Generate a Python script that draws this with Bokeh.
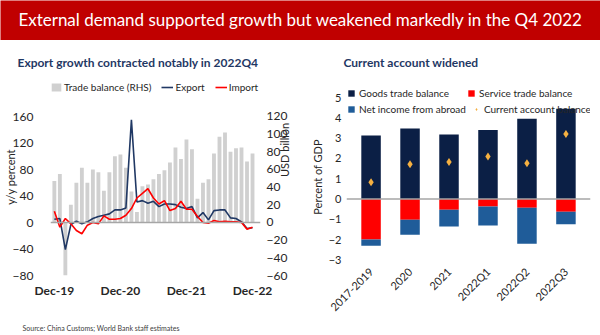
import numpy as np
from bokeh.plotting import figure
from bokeh.models import (ColumnDataSource, Range1d, LinearAxis, FixedTicker, Span,
                          Legend, LegendItem, FactorRange)
from bokeh.layouts import column, row
from bokeh.embed import file_html
from bokeh.resources import INLINE
from bokeh.core.properties import value

# ---------------- data ----------------
banner_title = "External demand supported growth but weakened markedly in the Q4 2022"
left_title = "Export growth contracted notably in 2022Q4"
right_title = "Current account widened"
source_note = "Source: China Customs; World Bank staff estimates"

months = ["Dec-19", "Jan-20", "Feb-20", "Mar-20", "Apr-20", "May-20", "Jun-20", "Jul-20",
          "Aug-20", "Sep-20", "Oct-20", "Nov-20", "Dec-20", "Jan-21", "Feb-21", "Mar-21",
          "Apr-21", "May-21", "Jun-21", "Jul-21", "Aug-21", "Sep-21", "Oct-21", "Nov-21",
          "Dec-21", "Jan-22", "Feb-22", "Mar-22", "Apr-22", "May-22", "Jun-22", "Jul-22",
          "Aug-22", "Sep-22", "Oct-22", "Nov-22", "Dec-22"]
trade_balance = [47, 55, -60, 20, 45, 62, 45, 60, 57, 36, 57, 75, 77, 62, 35, 12, 41, 43, 49,
                 55, 59, 68, 85, 72, 94, 83, 27, 45, 49, 78, 97, 102, 80, 84, 85, 69, 78]
export_yoy = [5, 6, -41, -3, 2, -2, 1, 6, 9, 11, 13, 19, 19, 22, 155, 31, 33, 29, 32, 24,
              28, 28, 27, 23, 21, 24, 7, 15, 4, 18, 19, 19, 7, 6, 1, -9, -8]
import_yoy = [17, -7, 6, -2, -12, -17, -4, 0, -2, 10, 5, 5, 6, 11, 21, 37, 44, 51, 37, 28,
              33, 18, 21, 32, 20, 20, 9, 0, -1, 3, 1, 2, 1, 1, 0, -10, -7]
left_ticks = [-80, -40, 0, 40, 80, 120, 160]
right_ticks = [-60, -40, -20, 0, 20, 40, 60, 80, 100, 120]
month_tick_labels = ["Dec-19", "Dec-20", "Dec-21", "Dec-22"]

periods = ["2017-2019", "2020", "2021", "2022Q1", "2022Q2", "2022Q3"]
goods = [3.13, 3.47, 3.18, 3.40, 3.96, 4.45]
services = [-2.00, -1.02, -0.53, -0.37, -0.43, -0.63]
net_income = [-0.30, -0.74, -0.82, -0.93, -1.77, -0.62]
current_account = [0.83, 1.71, 1.83, 2.10, 1.76, 3.20]
ca_ticks = [-3, -2, -1, 0, 1, 2, 3, 4, 5]

FONT = "Lato"
NAVY = "#1F3864"
TXT = "#262626"


def strip(width, height, bg=None):
    f = figure(width=width, height=height, x_range=Range1d(0, width), y_range=Range1d(0, height),
               toolbar_location=None, output_backend="svg", min_border=0)
    f.outline_line_color = None
    f.axis.visible = False
    f.grid.visible = False
    if bg is not None:
        f.background_fill_color = bg
    return f


# ---------------- banner ----------------
banner = strip(600, 40, bg="#C00000")
banner.border_fill_color = "white"
banner.text(x=[300], y=[21], text=[banner_title], text_align="center", text_baseline="middle",
            text_color="white", text_font=value(FONT), text_font_size="17px")

# ---------------- chart titles ----------------
titles = strip(600, 38)
titles.text(x=[17, 343], y=[16, 16], text=[left_title, right_title], text_align="left",
            text_baseline="middle", text_color=NAVY, text_font=value(FONT),
            text_font_size="12px", text_font_style="bold")

# ---------------- left chart ----------------
n = len(months)
xs = list(range(n))
src = ColumnDataSource(dict(x=xs, tb=trade_balance, ex=export_yoy, im=import_yoy))

# frame extends above the top tick so that the legend sits inside it
p1 = figure(width=300, height=242, toolbar_location=None, output_backend="svg",
            x_range=Range1d(-0.7, 37.45), y_range=Range1d(-80, 217.4),
            min_border_left=49, min_border_right=34, min_border_top=0, min_border_bottom=45)
p1.extra_y_ranges = {"rhs": Range1d(-60, 163)}
p1.outline_line_color = None
p1.grid.visible = False

bars = p1.vbar(x="x", top="tb", bottom=0, width=0.7, source=src, y_range_name="rhs",
               fill_color="#D0D0D0", line_color=None)
p1.add_layout(Span(location=0, dimension="width", line_color="#A6A6A6", line_width=1.5))
l_ex = p1.line(x="x", y="ex", source=src, line_color="#203864", line_width=1.6)
l_im = p1.line(x="x", y="im", source=src, line_color="#FF0000", line_width=1.6)

raxis = LinearAxis(y_range_name="rhs", axis_label="USD billion")
p1.add_layout(raxis, "right")

tick_idx = [months.index(m) for m in month_tick_labels]
p1.xaxis.ticker = FixedTicker(ticks=tick_idx)
p1.xaxis.major_label_overrides = {i: months[i] for i in tick_idx}
p1.xaxis.major_label_text_font_style = "bold"
p1.yaxis[0].ticker = FixedTicker(ticks=left_ticks)
p1.yaxis[0].axis_label = "y/y percent"
raxis.ticker = FixedTicker(ticks=right_ticks)

for ax in p1.axis:
    ax.axis_line_color = None
    ax.major_tick_line_color = None
    ax.minor_tick_line_color = None
    ax.major_tick_out = 0
    ax.major_tick_in = 0
    ax.major_label_text_font = FONT
    ax.major_label_text_font_size = "12px"
    ax.major_label_text_color = TXT
    ax.axis_label_text_font = FONT
    ax.axis_label_text_font_size = "11px"
    ax.axis_label_text_font_style = "normal"
    ax.axis_label_text_color = TXT
    ax.axis_label_text_align = "center"
p1.xaxis.major_label_standoff = 7
p1.yaxis[0].major_label_standoff = 17
p1.yaxis[0].axis_label_standoff = -7
raxis.major_label_standoff = 6
raxis.axis_label_standoff = -6
raxis.axis_label_orientation = np.pi / 2

leg1 = Legend(items=[LegendItem(label="Trade balance (RHS)", renderers=[bars]),
                     LegendItem(label="Export", renderers=[l_ex]),
                     LegendItem(label="Import", renderers=[l_im])],
              orientation="horizontal", location=(0, 182),
              label_text_font=FONT, label_text_font_size="10px", label_text_color=TXT,
              glyph_width=12, glyph_height=10, label_standoff=2, spacing=10,
              padding=0, margin=0, border_line_color=None, background_fill_alpha=0)
p1.add_layout(leg1)

# ---------------- right chart ----------------
svc_bottom = [0.0] * len(periods)
ni_bottom = services
ni_top = [s + v for s, v in zip(services, net_income)]
src2 = ColumnDataSource(dict(p=periods, goods=goods, svc=services, svc_b=svc_bottom,
                             ni_b=ni_bottom, ni_t=ni_top, ca=current_account))

p2 = figure(width=300, height=242, toolbar_location=None, output_backend="svg",
            x_range=FactorRange(*periods, range_padding=0.13, range_padding_units="absolute"),
            y_range=Range1d(-3.77, 5.94),
            min_border_left=46, min_border_right=10, min_border_top=0, min_border_bottom=45)
p2.outline_line_color = None
p2.grid.visible = False

g_r = p2.vbar(x="p", top="goods", bottom=0, width=0.5, source=src2,
              fill_color="#0B1F45", line_color=None)
s_r = p2.vbar(x="p", top="svc", bottom="svc_b", width=0.5, source=src2,
              fill_color="#FF0000", line_color=None)
n_r = p2.vbar(x="p", top="ni_t", bottom="ni_b", width=0.5, source=src2,
              fill_color="#1F5C99", line_color=None)
p2.add_layout(Span(location=0, dimension="width", line_color="#A6A6A6", line_width=1.5))
c_r = p2.scatter(x="p", y="ca", source=src2, marker="diamond", size=8,
                 fill_color="#F5B041", line_color=None)

p2.yaxis.ticker = FixedTicker(ticks=ca_ticks)
p2.yaxis.axis_label = "Percent of GDP"
p2.xaxis.major_label_orientation = np.pi / 4
for ax in p2.axis:
    ax.axis_line_color = None
    ax.major_tick_line_color = None
    ax.minor_tick_line_color = None
    ax.major_tick_out = 0
    ax.major_tick_in = 0
    ax.major_label_text_font = FONT
    ax.major_label_text_font_size = "11px"
    ax.major_label_text_color = TXT
    ax.axis_label_text_font = FONT
    ax.axis_label_text_font_size = "11px"
    ax.axis_label_text_font_style = "normal"
    ax.axis_label_text_color = TXT
    ax.axis_label_text_align = "center"
p2.yaxis.major_label_standoff = 5
p2.yaxis.axis_label_standoff = 2
p2.xaxis.major_label_standoff = -6

leg_style = dict(orientation="horizontal", label_text_font=FONT, label_text_font_size="10px",
                 label_text_color=TXT, glyph_width=8, glyph_height=8, label_standoff=4,
                 spacing=6, padding=0, margin=0, label_width=102,
                 border_line_color=None, background_fill_alpha=0)
leg2a = Legend(items=[LegendItem(label="Goods trade balance", renderers=[g_r]),
                      LegendItem(label="Service trade balance", renderers=[s_r])],
               location=(1, 176), **leg_style)
leg2b = Legend(items=[LegendItem(label="Net income from abroad", renderers=[n_r]),
                      LegendItem(label="Current account balance", renderers=[c_r])],
               location=(1, 160), **leg_style)
p2.add_layout(leg2a)
p2.add_layout(leg2b)

# ---------------- source ----------------
srcfig = strip(600, 15)
srcfig.text(x=[22], y=[8], text=[source_note], text_align="left", text_baseline="middle",
            text_color="#404040", text_font=value(FONT), text_font_size="7px")

layout = column(banner, titles, row(p1, p2), srcfig)
open("out.html", "w").write(file_html(layout, INLINE))
